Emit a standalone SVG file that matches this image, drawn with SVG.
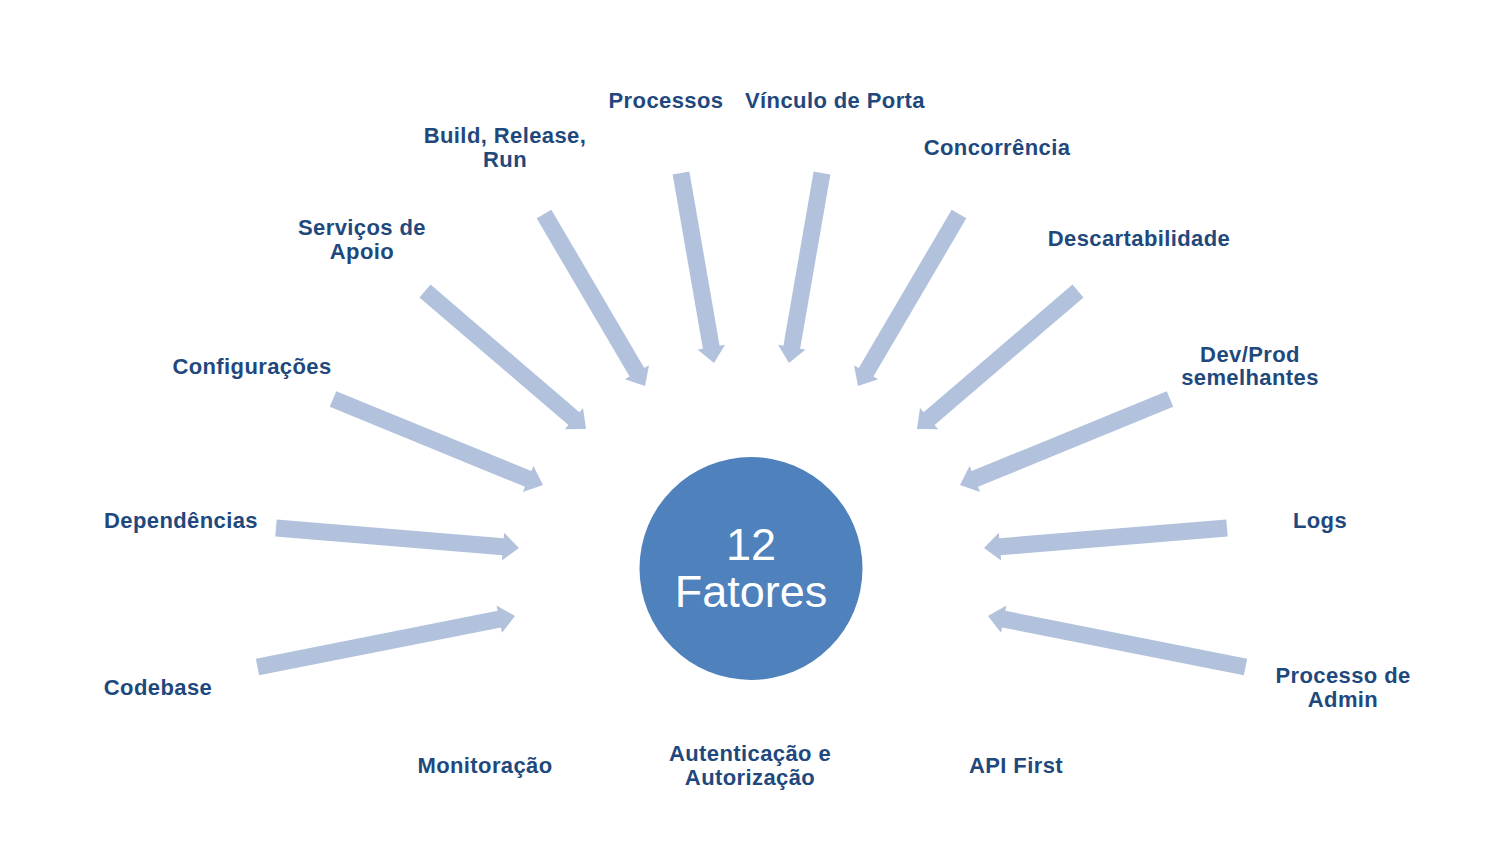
<svg xmlns="http://www.w3.org/2000/svg" width="1500" height="844" viewBox="0 0 1500 844">
<style>
.lbl{font-family:"Liberation Sans",Arial,sans-serif;font-weight:bold;font-size:22px;fill:#1F497D;text-anchor:middle;letter-spacing:0.4px}
.arr{fill:#B2C2DD}
.ctr{font-family:"Liberation Sans",Arial,sans-serif;font-size:45px;fill:#FFFFFF;text-anchor:middle}
</style>
<rect width="1500" height="844" fill="#FFFFFF"/>
<g id="connectors">
<polygon class="arr" points="0,-8.5 246.5,-8.5 246.5,-14 262.5,0 246.5,14 246.5,8.5 0,8.5" transform="translate(257.5,667) rotate(-11.2)"/>
<polygon class="arr" points="0,-8.5 227.8,-8.5 227.8,-14 243.8,0 227.8,14 227.8,8.5 0,8.5" transform="translate(276,528) rotate(4.7)"/>
<polygon class="arr" points="0,-8.5 210.9,-8.5 210.9,-14 226.9,0 210.9,14 210.9,8.5 0,8.5" transform="translate(333,399) rotate(22.27)"/>
<polygon class="arr" points="0,-8.5 196.1,-8.5 196.1,-14 212.1,0 196.1,14 196.1,8.5 0,8.5" transform="translate(425,291) rotate(40.6)"/>
<polygon class="arr" points="0,-8.5 183.5,-8.5 183.5,-14 199.5,0 183.5,14 183.5,8.5 0,8.5" transform="translate(544,214) rotate(59.58)"/>
<polygon class="arr" points="0,-8.5 176.8,-8.5 176.8,-14 192.8,0 176.8,14 176.8,8.5 0,8.5" transform="translate(681,173) rotate(80.15)"/>
<polygon class="arr" points="0,-8.5 176.8,-8.5 176.8,-14 192.8,0 176.8,14 176.8,8.5 0,8.5" transform="translate(822,173) rotate(99.85)"/>
<polygon class="arr" points="0,-8.5 183.5,-8.5 183.5,-14 199.5,0 183.5,14 183.5,8.5 0,8.5" transform="translate(959,214) rotate(120.42)"/>
<polygon class="arr" points="0,-8.5 196.1,-8.5 196.1,-14 212.1,0 196.1,14 196.1,8.5 0,8.5" transform="translate(1078,291) rotate(139.4)"/>
<polygon class="arr" points="0,-8.5 210.9,-8.5 210.9,-14 226.9,0 210.9,14 210.9,8.5 0,8.5" transform="translate(1170,399) rotate(157.73)"/>
<polygon class="arr" points="0,-8.5 227.8,-8.5 227.8,-14 243.8,0 227.8,14 227.8,8.5 0,8.5" transform="translate(1227,528) rotate(175.3)"/>
<polygon class="arr" points="0,-8.5 246.5,-8.5 246.5,-14 262.5,0 246.5,14 246.5,8.5 0,8.5" transform="translate(1245.5,667) rotate(191.2)"/>
</g>
<g id="center">
<circle cx="751" cy="568.5" r="111.5" fill="#4F81BD"/>
<text class="ctr" x="751" y="560">12</text>
<text class="ctr" x="751" y="607">Fatores</text>
</g>
<g id="codebase"><text class="lbl" x="158" y="695">Codebase</text></g>
<g id="dependencias"><text class="lbl" x="181" y="528">Dependências</text></g>
<g id="configuracoes"><text class="lbl" x="252" y="374">Configurações</text></g>
<g id="servicos"><text class="lbl" x="362" y="235">Serviços de</text><text class="lbl" x="362" y="259">Apoio</text></g>
<g id="build"><text class="lbl" x="505" y="143">Build, Release,</text><text class="lbl" x="505" y="167">Run</text></g>
<g id="processos"><text class="lbl" x="666" y="108">Processos</text></g>
<g id="vinculo"><text class="lbl" x="835" y="108">Vínculo de Porta</text></g>
<g id="concorrencia"><text class="lbl" x="997" y="155">Concorrência</text></g>
<g id="descartabilidade"><text class="lbl" x="1139" y="246">Descartabilidade</text></g>
<g id="devprod"><text class="lbl" x="1250" y="362">Dev/Prod</text><text class="lbl" x="1250" y="385">semelhantes</text></g>
<g id="logs"><text class="lbl" x="1320" y="528">Logs</text></g>
<g id="admin"><text class="lbl" x="1343" y="683">Processo de</text><text class="lbl" x="1343" y="707">Admin</text></g>
<g id="monitoracao"><text class="lbl" x="485" y="773">Monitoração</text></g>
<g id="autenticacao"><text class="lbl" x="750" y="761">Autenticação e</text><text class="lbl" x="750" y="785">Autorização</text></g>
<g id="apifirst"><text class="lbl" x="1016" y="773">API First</text></g>
</svg>
